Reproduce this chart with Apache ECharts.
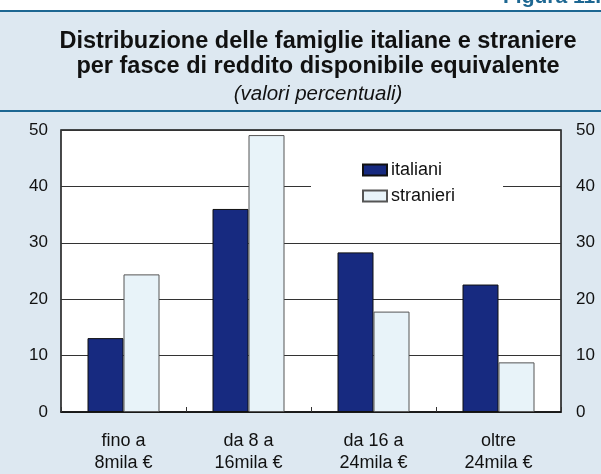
<!DOCTYPE html>
<html>
<head>
<meta charset="utf-8">
<script src="https://cdn.jsdelivr.net/npm/echarts@6/dist/echarts.min.js"></script>
<style>
  html, body { margin: 0; padding: 0; background: #fff; }
  #chart { width: 601px; height: 474px; }
</style>
</head>
<body>
<div id="chart"></div>
<script>
// categorie (fasce di reddito) e valori percentuali
const categories = ['fino a\n8mila €', 'da 8 a\n16mila €', 'da 16 a\n24mila €', 'oltre\n24mila €'];
const italiani = [13.1, 36.0, 28.3, 22.6];
const stranieri = [24.4, 49.1, 17.8, 8.8];

const myChart = echarts.init(document.getElementById('chart'));
const font = 'Liberation Sans, Arial, sans-serif';
const bandColor = '#dde8f1';
const lineBlue = '#1d6792';

const option = {
  animation: false,
  backgroundColor: '#ffffff',
  graphic: [
    { type: 'rect', z: -10, silent: true, shape: { x: 0, y: 12, width: 601, height: 462 }, style: { fill: bandColor } },
    { type: 'rect', z: -9, silent: true, shape: { x: 0, y: 10, width: 601, height: 2 }, style: { fill: lineBlue } },
    { type: 'rect', z: -9, silent: true, shape: { x: 0, y: 110, width: 601, height: 2 }, style: { fill: lineBlue } },
    { type: 'text', left: 503, top: -13, style: { text: 'Figura 11.', font: 'bold 21px ' + font, fill: '#1d6792' } }
  ],
  title: {
    text: 'Distribuzione delle famiglie italiane e straniere\nper fasce di reddito disponibile equivalente',
    subtext: '(valori percentuali)',
    left: 313,
    textAlign: 'center',
    top: 24,
    itemGap: 5,
    textStyle: { fontFamily: font, fontSize: 23.5, fontWeight: 'bold', color: '#111', lineHeight: 25 },
    subtextStyle: { fontFamily: font, fontSize: 20.5, fontStyle: 'italic', color: '#111' }
  },
  legend: {
    orient: 'vertical',
    left: 311,
    top: 151,
    padding: [10, 48, 10, 51],
    backgroundColor: '#ffffff',
    icon: 'rect',
    itemWidth: 24,
    itemHeight: 11,
    itemGap: 8,
    textStyle: { fontFamily: font, fontSize: 18, color: '#111', padding: [0, 0, 0, -1] },
    data: ['italiani', 'stranieri']
  },
  grid: {
    left: 61, right: 40, top: 130, bottom: 61,
    show: true, backgroundColor: '#ffffff', borderColor: '#111', borderWidth: 1.5,
    containLabel: false
  },
  xAxis: {
    type: 'category',
    data: categories,
    axisLine: { show: true, lineStyle: { color: '#111', width: 1.5 } },
    axisTick: { show: true, inside: true, length: 5, lineStyle: { color: '#333' } },
    axisLabel: { fontFamily: font, fontSize: 18, color: '#111', margin: 18, lineHeight: 22 }
  },
  yAxis: [
    {
      type: 'value', min: 0, max: 50, interval: 10,
      axisLine: { show: false }, axisTick: { show: false },
      splitLine: { show: true, lineStyle: { color: '#333', width: 1 } },
      axisLabel: { fontFamily: font, fontSize: 17, color: '#111', margin: 13 }
    },
    {
      type: 'value', min: 0, max: 50, interval: 10, position: 'right',
      axisLine: { show: false }, axisTick: { show: false }, splitLine: { show: false },
      axisLabel: { fontFamily: font, fontSize: 17, color: '#111', margin: 15 }
    }
  ],
  series: [
    {
      name: 'italiani', type: 'bar', data: italiani, barWidth: 36, barGap: '0%',
      itemStyle: { color: '#172a80', borderColor: '#111', borderWidth: 1 }
    },
    {
      name: 'stranieri', type: 'bar', data: stranieri, barWidth: 36,
      itemStyle: { color: '#e8f3f9', borderColor: '#555', borderWidth: 1 }
    }
  ]
};

option && myChart.setOption(option);
</script>
</body>
</html>
